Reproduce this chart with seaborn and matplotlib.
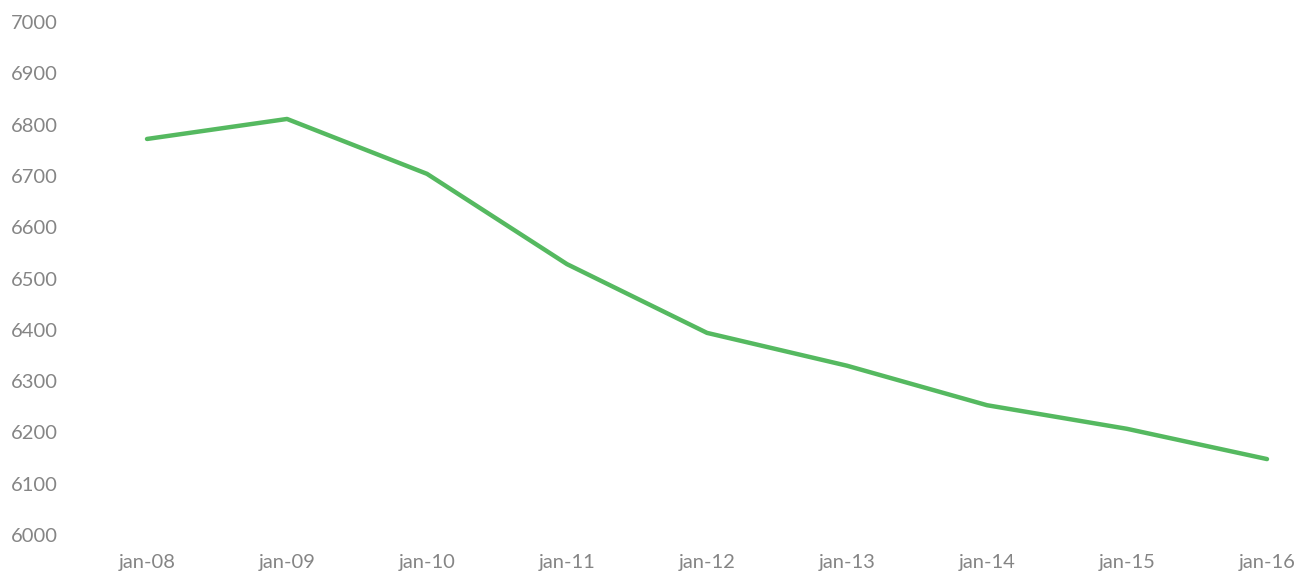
import seaborn as sns
import pandas as pd
import matplotlib.pyplot as plt

months = ['jan-08', 'jan-09', 'jan-10', 'jan-11', 'jan-12', 'jan-13', 'jan-14', 'jan-15', 'jan-16']
values = [6772, 6811, 6704, 6528, 6394, 6330, 6253, 6207, 6148]
yticks = list(range(6000, 7001, 100))

df = pd.DataFrame({'month': months, 'value': values})
df['pos'] = range(len(months))

sns.set_style('white')
plt.rcParams['font.family'] = ['Lato', 'DejaVu Sans']

fig = plt.figure(figsize=(12.99, 5.74), dpi=100)
# axes placed so first/last point sit where the reference puts them
ax = fig.add_axes([147 / 1299, 39 / 574, 1120 / 1299, 513 / 574])

sns.lineplot(x='pos', y='value', data=df, ax=ax, color='#55b960', linewidth=3.2, clip_on=False)

ax.set_xlim(0, len(months) - 1)
ax.set_ylim(6000, 7000)
ax.set_xticks(df['pos'])
ax.set_xticklabels(months)
ax.set_yticks(yticks)
ax.set(xlabel='', ylabel='')
ax.tick_params(axis='y', length=0, pad=64, labelsize=14.5, labelcolor='#858585')
ax.tick_params(axis='x', length=0, pad=14, labelsize=14.5, labelcolor='#858585')
sns.despine(ax=ax, left=True, bottom=True)

fig.savefig('out.png', dpi=100)
